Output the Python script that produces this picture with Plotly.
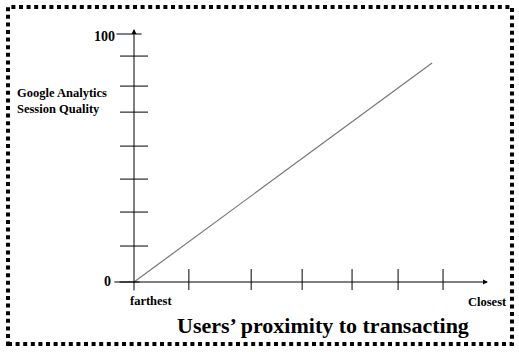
import plotly.graph_objects as go

W, H = 519, 352

# ---- data ----
line_x = [0, 84.2]          # users' proximity (0 = farthest)
line_y = [0, 88.3]          # session quality
y_ticks = [91.1, 79.0, 68.5, 54.8, 41.5, 28.2, 14.5]
x_ticks = [15.5, 33.1, 47.5, 61.6, 74.6, 87.3]
y_labels = ["0", "100"]
x_labels = ["farthest", "Closest"]
title_text = "Users’ proximity to transacting"
ylab_text = "Google Analytics<br>Session Quality"

# pixel mapping for axes: origin at (134, 282)
OX, OY = 134, 282
SX, SY = 3.54, 2.48
xr = [(0 - OX) / SX, (W - OX) / SX]
yr = [(OY - H) / SY, (OY - 0) / SY]

def px(x):
    return x / W

def py(y):
    return 1 - y / H

FONT = "Liberation Serif, Times New Roman, serif"

fig = go.Figure()

# diagonal line
fig.add_trace(go.Scatter(x=line_x, y=line_y, mode="lines",
                         line=dict(color="#777777", width=1.2),
                         hoverinfo="skip", showlegend=False))
# y ticks
fig.add_trace(go.Scatter(x=[0] * len(y_ticks), y=y_ticks, mode="markers",
                         marker=dict(symbol="line-ew", size=20,
                                     line=dict(color="black", width=1)),
                         hoverinfo="skip", showlegend=False))
# labelled y ticks (0 and 100), shifted slightly left
fig.add_trace(go.Scatter(x=[-2.0, -1.4], y=[0, 100], mode="markers",
                         marker=dict(symbol="line-ew", size=18,
                                     line=dict(color="black", width=1)),
                         hoverinfo="skip", showlegend=False))
# x ticks
fig.add_trace(go.Scatter(x=x_ticks, y=[1.0] * len(x_ticks), mode="markers",
                         marker=dict(symbol="line-ns", size=15,
                                     line=dict(color="black", width=1)),
                         hoverinfo="skip", showlegend=False))

annotations = []
# axes with arrows
annotations.append(dict(x=0, y=102, ax=0, ay=-4, xref="x", yref="y",
                        axref="x", ayref="y", text="", showarrow=True,
                        arrowhead=2, arrowsize=1, arrowwidth=1,
                        arrowcolor="black"))
annotations.append(dict(x=100, y=0, ax=-4.5, ay=0, xref="x", yref="y",
                        axref="x", ayref="y", text="", showarrow=True,
                        arrowhead=2, arrowsize=1, arrowwidth=1,
                        arrowcolor="black"))
# texts
annotations.append(dict(x=px(117), y=py(36), xref="paper", yref="paper",
                        text="<b>%s</b>" % y_labels[1], showarrow=False,
                        xanchor="right", yanchor="middle",
                        font=dict(family=FONT, size=14, color="black")))
annotations.append(dict(x=px(113), y=py(281), xref="paper", yref="paper",
                        text="<b>%s</b>" % y_labels[0], showarrow=False,
                        xanchor="right", yanchor="middle",
                        font=dict(family=FONT, size=14, color="black")))
annotations.append(dict(x=px(15), y=py(101), xref="paper", yref="paper",
                        text="<b>%s</b>" % ylab_text, showarrow=False,
                        xanchor="left", yanchor="middle", align="left",
                        font=dict(family=FONT, size=12.5, color="black")))
annotations.append(dict(x=px(151), y=py(301), xref="paper", yref="paper",
                        text="<b>%s</b>" % x_labels[0], showarrow=False,
                        xanchor="center", yanchor="middle",
                        font=dict(family=FONT, size=12.5, color="black")))
annotations.append(dict(x=px(487), y=py(302), xref="paper", yref="paper",
                        text="<b>%s</b>" % x_labels[1], showarrow=False,
                        xanchor="center", yanchor="middle",
                        font=dict(family=FONT, size=12.5, color="black")))
annotations.append(dict(x=px(323), y=py(325), xref="paper", yref="paper",
                        text="<b>%s</b>" % title_text, showarrow=False,
                        xanchor="center", yanchor="middle",
                        font=dict(family=FONT, size=22, color="black")))

shapes = [dict(type="rect", xref="paper", yref="paper",
               x0=px(8), x1=px(512), y0=py(344), y1=py(7),
               line=dict(color="black", width=4, dash="4px,3.6px"))]

fig.update_layout(
    width=W, height=H, margin=dict(l=0, r=0, t=0, b=0),
    paper_bgcolor="white", plot_bgcolor="white",
    xaxis=dict(range=xr, visible=False, fixedrange=True),
    yaxis=dict(range=yr, visible=False, fixedrange=True),
    annotations=annotations, shapes=shapes, showlegend=False,
)

fig.write_html("out.html", config={"displayModeBar": False})
